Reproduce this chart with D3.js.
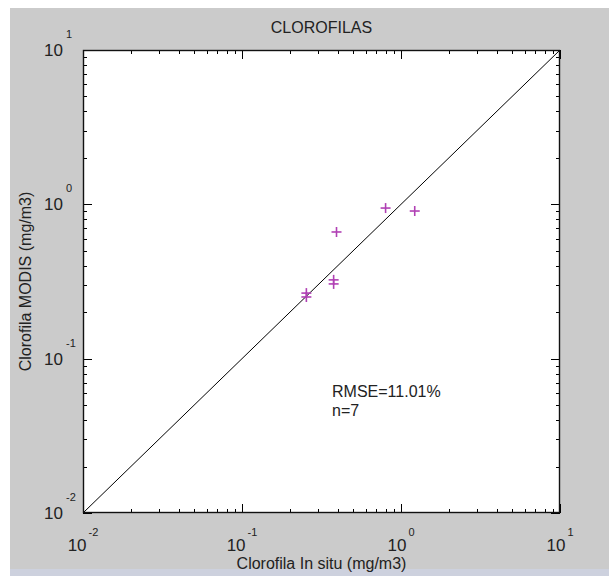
<!DOCTYPE html>
<html>
<head>
<meta charset="utf-8">
<script src="https://cdn.jsdelivr.net/npm/d3@7/dist/d3.min.js"></script>
<style>
  body { margin: 0; padding: 0; background: #fff; }
  svg { display: block; font-family: "Liberation Sans", Arial, sans-serif; }
</style>
</head>
<body>
<script>
// values
var insitu = [0.80, 1.22, 0.393, 0.377, 0.377, 0.254, 0.254];
var modis  = [0.946, 0.905, 0.662, 0.324, 0.305, 0.266, 0.251];
var decades = [-2, -1, 0, 1];
var title = "CLOROFILAS",
    xTitle = "Clorofila In situ (mg/m3)",
    yTitle = "Clorofila MODIS (mg/m3)",
    notes = ["RMSE=11.01%", "n=7"];

var W = 609, H = 576;
var svg = d3.select("body").append("svg")
    .attr("width", W).attr("height", H);

// background panels
svg.append("rect").attr("x", 10).attr("y", 8).attr("width", W - 10).attr("height", H - 8)
    .style("fill", "#cbcbcb");
svg.append("rect").attr("x", 10).attr("y", 569).attr("width", W - 10).attr("height", 7)
    .style("fill", "#cdd1de");

// plot box (window.top is reserved, so use other names)
var pLeft = 83, pRight = 560, pTop = 50, pBottom = 513;

var x = d3.scaleLog().domain([0.01, 10]).range([pLeft, pRight]);
var y = d3.scaleLog().domain([0.01, 10]).range([pBottom, pTop]);

svg.append("rect")
    .attr("x", pLeft).attr("y", pTop)
    .attr("width", pRight - pLeft).attr("height", pBottom - pTop)
    .style("fill", "#fff");

// ticks on all four sides, pointing in
var ticks = [];
decades.forEach(function(d) {
    var base = Math.pow(10, d);
    ticks.push({v: base, major: true});
    if (d < 1) for (var k = 2; k < 10; k++) ticks.push({v: k * base, major: false});
});

var tg = svg.append("g").style("stroke", "#000").style("stroke-width", 1);
ticks.forEach(function(t) {
    var len = t.major ? 9 : 4;
    var px = Math.round(x(t.v)) + 0.5, py = Math.round(y(t.v)) + 0.5;
    tg.append("line").attr("x1", px).attr("x2", px).attr("y1", pBottom).attr("y2", pBottom - len);
    tg.append("line").attr("x1", px).attr("x2", px).attr("y1", pTop).attr("y2", pTop + len);
    tg.append("line").attr("x1", pLeft).attr("x2", pLeft + len).attr("y1", py).attr("y2", py);
    tg.append("line").attr("x1", pRight).attr("x2", pRight - len).attr("y1", py).attr("y2", py);
});

// 1:1 line
svg.append("line")
    .attr("x1", x(0.01)).attr("y1", y(0.01))
    .attr("x2", x(10)).attr("y2", y(10))
    .style("stroke", "#000").style("stroke-width", 1);

svg.append("rect")
    .attr("x", pLeft + 0.5).attr("y", pTop + 0.5)
    .attr("width", pRight - pLeft - 1).attr("height", pBottom - pTop - 1)
    .style("fill", "none").style("stroke", "#111").style("stroke-width", 1.4);

// tick labels
decades.forEach(function(d) {
    var t = svg.append("text")
        .attr("x", x(Math.pow(10, d))).attr("y", 551)
        .attr("text-anchor", "middle")
        .style("font-size", "17px").style("fill", "#222");
    t.append("tspan").text("10");
    t.append("tspan").attr("dx", 2).attr("dy", -15).style("font-size", "11px").text(d);

    var yy = y(Math.pow(10, d));
    svg.append("text")
        .attr("x", 63).attr("y", yy + 6)
        .attr("text-anchor", "end")
        .style("font-size", "17px").style("fill", "#222")
        .text("10");
    svg.append("text")
        .attr("x", 66).attr("y", yy - 12)
        .style("font-size", "11px").style("fill", "#222")
        .text(d);
});

// titles
svg.append("text")
    .attr("x", (pLeft + pRight) / 2).attr("y", 33)
    .attr("text-anchor", "middle")
    .style("font-size", "16px").style("fill", "#222")
    .text(title);

svg.append("text")
    .attr("x", (pLeft + pRight) / 2).attr("y", 569)
    .attr("text-anchor", "middle")
    .style("font-size", "16px").style("fill", "#222")
    .text(xTitle);

svg.append("text")
    .attr("transform", "translate(31," + ((pTop + pBottom) / 2) + ") rotate(-90)")
    .attr("text-anchor", "middle")
    .style("font-size", "16px").style("fill", "#222")
    .text(yTitle);

// points
var pts = svg.append("g")
    .style("stroke", "#b040b4").style("stroke-width", 1.6);
insitu.forEach(function(v, i) {
    var px = x(v), py = y(modis[i]);
    pts.append("line").attr("x1", px - 5).attr("x2", px + 5).attr("y1", py).attr("y2", py);
    pts.append("line").attr("x1", px).attr("x2", px).attr("y1", py - 5).attr("y2", py + 5);
});

// annotation
notes.forEach(function(s, i) {
    svg.append("text")
        .attr("x", 332).attr("y", 397 + i * 19)
        .style("font-size", "16px").style("fill", "#222")
        .text(s);
});
</script>
</body>
</html>
